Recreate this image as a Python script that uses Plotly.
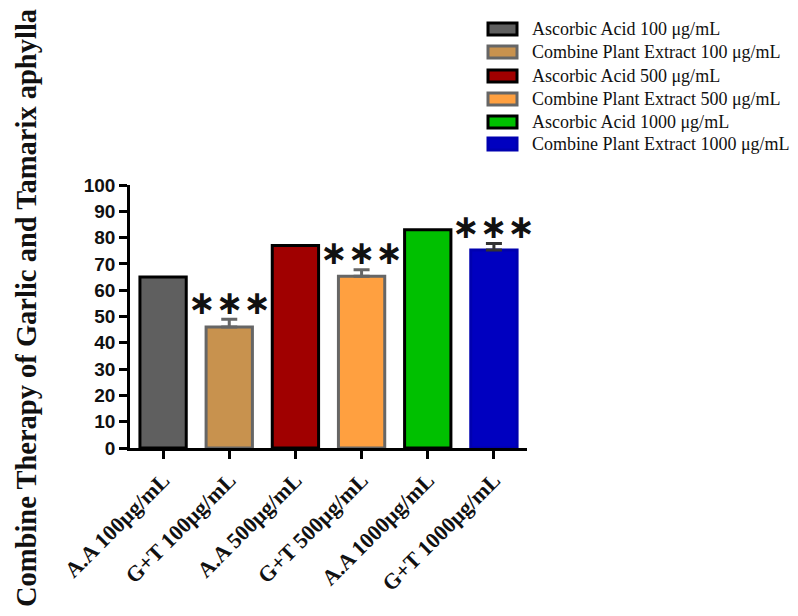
import plotly.graph_objects as go

categories = ["A.A 100μg/mL", "G+T 100μg/mL", "A.A 500μg/mL",
              "G+T 500μg/mL", "A.A 1000μg/mL", "G+T 1000μg/mL"]
legend_names = ["Ascorbic Acid 100 μg/mL", "Combine Plant Extract 100 μg/mL",
                "Ascorbic Acid 500 μg/mL", "Combine Plant Extract 500 μg/mL",
                "Ascorbic Acid 1000 μg/mL", "Combine Plant Extract 1000 μg/mL"]
values = [65, 46, 77, 65.3, 83, 75.3]
errors = [0, 3, 0, 2.5, 0, 2.5]
significance = ["", "***", "", "***", "", "***"]
y_ticks = [0, 10, 20, 30, 40, 50, 60, 70, 80, 90, 100]

fill_colors = ["#5f5f5f", "#c8924e", "#a00000", "#ffa040", "#00c000", "#0000c0"]
line_colors = ["#000000", "#666666", "#000000", "#666666", "#000000", "#0000b0"]
err_colors = ["#000000", "#666666", "#000000", "#666666", "#000000", "#333333"]

# page has an 8px body margin; work in page pixels and shift
OFF = 8
W, H = 790, 600
L, R_px, T_px, B_px = 130 - OFF, 527 - OFF, 185 - OFF, 448 - OFF
PW, PH = R_px - L, B_px - T_px


def px_x(p):
    return (p - OFF - L) / PW


def px_y(p):
    return (B_px - (p - OFF)) / PH


fig = go.Figure()
for i, cat in enumerate(categories):
    fig.add_trace(go.Bar(
        x=[cat], y=[values[i]], name=legend_names[i], width=0.7,
        marker=dict(color=fill_colors[i], line=dict(color=line_colors[i], width=3)),
        error_y=dict(type="data", array=[errors[i]], arrayminus=[0],
                     symmetric=False, visible=errors[i] > 0,
                     color=err_colors[i], thickness=3, width=8),
        showlegend=False,
    ))

annotations = []
for i, cat in enumerate(categories):
    if significance[i]:
        annotations.append(dict(
            x=cat, y=values[i] + errors[i] + 6.5, xref="x", yref="y",
            text=significance[i].replace("*", "\u2217"), showarrow=False,
            yanchor="middle",
            font=dict(family="DejaVu Sans", size=33, color="#111111",
                      weight="bold"),
        ))

# manual legend
leg_y = [29, 52, 76, 99, 122, 144]
shapes = []
for i, name in enumerate(legend_names):
    yc = leg_y[i]
    shapes.append(dict(
        type="rect", xref="paper", yref="paper",
        x0=px_x(488), x1=px_x(517), y0=px_y(yc + 6), y1=px_y(yc - 6),
        fillcolor=fill_colors[i], line=dict(color=line_colors[i], width=3),
    ))
    annotations.append(dict(
        x=px_x(530), y=px_y(yc), xref="paper", yref="paper", text=name,
        showarrow=False, xanchor="left", yanchor="middle",
        font=dict(family="Liberation Serif", size=18, color="#111111"),
    ))

annotations.append(dict(
    x=px_x(26), y=px_y(308), xref="paper", yref="paper",
    text="Combine Therapy of Garlic and Tamarix aphylla",
    textangle=-90, showarrow=False, xanchor="center", yanchor="middle",
    font=dict(family="Liberation Serif", size=28.5, color="#111111", weight="bold"),
))

fig.update_layout(
    width=W, height=H, barmode="overlay",
    margin=dict(l=L, r=W - R_px, t=T_px, b=H - B_px, autoexpand=False),
    paper_bgcolor="white", plot_bgcolor="white",
    annotations=annotations, shapes=shapes,
    xaxis=dict(
        type="category", categoryorder="array", categoryarray=categories,
        range=[-0.5, 5.5], showline=True, linecolor="black", linewidth=2.5,
        ticks="outside", ticklen=8, tickwidth=2.5, tickcolor="black",
        tickangle=-45, showgrid=False,
        tickfont=dict(family="Liberation Serif", size=22, color="#111111",
                      weight="bold"),
    ),
    yaxis=dict(
        range=[0, 100], tickvals=y_ticks, showline=True, linecolor="black",
        linewidth=2.5, ticks="outside", ticklen=8, tickwidth=2.5,
        tickcolor="black", showgrid=False, zeroline=False,
        tickfont=dict(family="Liberation Sans", size=19, color="#111111",
                      weight="bold"),
    ),
)

fig.write_html("out.html")
